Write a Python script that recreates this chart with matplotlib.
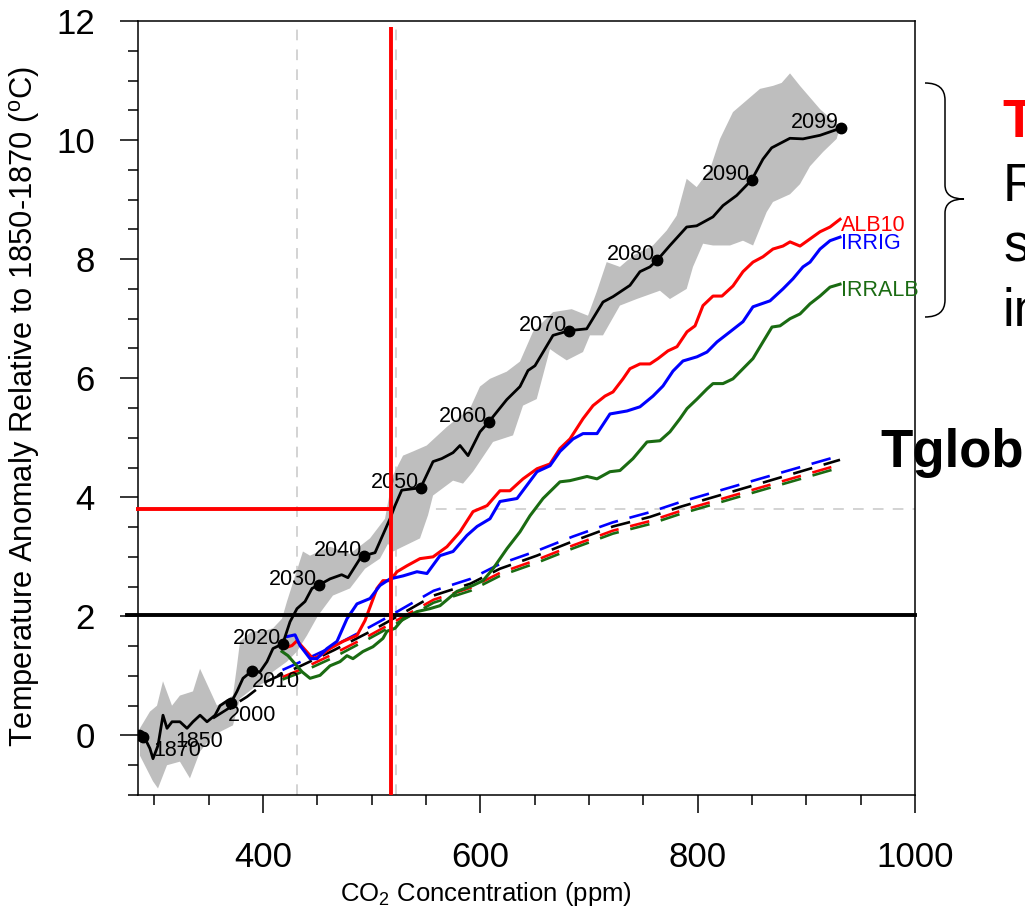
import numpy as np
import matplotlib.pyplot as plt
from matplotlib.path import Path
from matplotlib.patches import PathPatch

plt.rcParams['font.family'] = ['Liberation Sans', 'DejaVu Sans']
plt.rcParams['mathtext.fontset'] = 'custom'
plt.rcParams['mathtext.rm'] = 'Liberation Sans'
plt.rcParams['mathtext.it'] = 'Liberation Sans'

# --- black line: regional temperature vs CO2 (ensemble mean) ---
ctl_co2 = [286.8, 291.4, 296.0, 298.8, 303.4, 308.0, 311.7, 316.3, 323.6, 330.1, 335.6,
           342.1, 348.5, 355.9, 360.5, 367.8, 370.3, 376.1, 381.6, 389.6, 397.3, 403.7,
           409.2, 418.2, 424.9, 431.3, 438.7, 445.1, 451.8, 461.7, 472.4, 478.2, 489.3,
           493.0, 503.1, 516.9, 521.5, 527.7, 545.1, 556.5, 564.5, 574.9, 581.3, 588.7,
           599.7, 608.0, 624.3, 636.5, 643.9, 650.3, 666.9, 681.9, 697.9, 712.9, 722.1,
           737.7, 746.9, 756.1, 762.6, 774.5, 789.9, 799.1, 814.1, 823.3, 835.9, 849.7,
           860.1, 868.1, 884.9, 896.9, 912.6, 931.6]
ctl_temp = [0.00, -0.05, -0.22, -0.39, -0.17, 0.34, 0.12, 0.23, 0.23, 0.12, 0.23,
            0.34, 0.23, 0.34, 0.50, 0.59, 0.54, 0.74, 0.96, 1.08, 1.07, 1.24,
            1.46, 1.54, 1.91, 2.13, 2.25, 2.47, 2.53, 2.63, 2.70, 2.65, 2.97,
            3.02, 3.07, 3.64, 3.86, 4.12, 4.16, 4.60, 4.65, 4.75, 4.87, 4.70,
            5.10, 5.27, 5.64, 5.86, 6.13, 6.21, 6.72, 6.80, 6.83, 7.28, 7.37,
            7.56, 7.79, 7.87, 7.98, 8.23, 8.54, 8.56, 8.71, 8.90, 9.07, 9.33,
            9.68, 9.87, 10.03, 10.02, 10.08, 10.20]

# spread (grey band)
band_up_co2 = [286.8, 296.0, 302.5, 308.0, 316.3, 323.6, 335.6, 342.1, 357.7, 372.4, 376.1,
               378.9, 389.9, 400.0, 409.2, 417.5, 422.1, 436.8, 443.3, 461.7, 480.1, 498.5,
               512.3, 519.7, 528.9, 538.1, 550.7, 569.1, 590.5, 599.7, 608.9, 624.3, 636.5,
               648.5, 666.9, 684.1, 699.1, 707.1, 716.3, 728.5, 740.5, 758.9, 771.5, 780.7,
               789.9, 799.1, 811.4, 820.6, 832.5, 857.4, 869.3, 877.3, 885.0, 894.2, 912.6,
               924.6, 931.0]
band_up_temp = [0.12, 0.40, 0.50, 0.91, 0.50, 0.67, 0.74, 1.12, 0.50, 0.67, 1.17,
                1.58, 1.75, 1.75, 1.80, 1.96, 2.25, 3.09, 3.02, 3.17, 3.05, 3.31,
                3.64, 4.37, 4.70, 4.77, 4.87, 5.18, 5.49, 5.86, 5.99, 6.11, 6.28,
                6.78, 7.11, 7.16, 7.05, 7.45, 7.95, 7.87, 8.06, 8.23, 8.48, 8.73,
                9.35, 9.21, 9.51, 10.02, 10.47, 10.86, 10.91, 10.96, 11.12, 10.91, 10.52,
                10.32, 10.22]
band_lo_co2 = [286.8, 298.8, 303.4, 311.7, 323.6, 332.8, 342.1, 354.0, 372.4, 378.9, 390.8,
               403.7, 409.2, 422.1, 431.3, 440.5, 450.6, 464.4, 480.1, 493.9, 507.7, 515.1,
               519.7, 544.5, 551.9, 556.5, 574.9, 584.1, 593.3, 611.7, 630.1, 639.3, 651.9,
               661.1, 664.1, 670.3, 679.5, 694.5, 700.9, 712.9, 728.5, 743.9, 765.3, 774.5,
               789.9, 795.7, 805.0, 814.1, 829.8, 841.7, 851.0, 863.5, 869.3, 885.0, 894.2,
               903.4, 915.4, 927.9]
band_lo_temp = [-0.34, -0.77, -0.89, -0.50, -0.44, -0.72, -0.27, 0.00, 0.17, 0.62, 0.79,
                0.91, 1.07, 1.24, 1.41, 1.68, 2.01, 2.35, 2.47, 2.80, 2.97, 3.22,
                3.09, 3.31, 3.70, 4.03, 4.28, 4.23, 4.43, 4.93, 5.04, 5.54, 5.65,
                6.28, 6.49, 6.41, 6.30, 6.44, 6.72, 6.72, 7.22, 7.33, 7.47, 7.33,
                7.50, 7.87, 8.26, 8.23, 8.23, 8.31, 8.23, 8.79, 8.96, 9.09, 9.26,
                9.56, 9.80, 10.02]

# decade markers
year_labels = ['1850', '1870', '2000', '2010', '2020', '2030', '2040', '2050',
               '2060', '2070', '2080', '2090', '2099']
year_co2 = [286.0, 290.0, 370.3, 389.6, 418.2, 451.8, 493.0, 545.1,
            608.0, 681.9, 762.6, 849.7, 931.6]
year_temp = [0.00, -0.03, 0.54, 1.08, 1.54, 2.53, 3.02, 4.16,
             5.27, 6.80, 7.98, 9.33, 10.20]

# --- sensitivity experiments, regional temperature ---
alb_co2 = [418.4, 426.7, 431.3, 446.0, 452.5, 461.7, 473.6, 486.5, 493.9, 504.9, 510.4,
           516.9, 523.3, 532.5, 544.5, 556.5, 569.3, 581.3, 593.3, 606.2, 618.1, 627.3,
           639.3, 652.2, 664.1, 673.3, 682.5, 694.5, 703.7, 714.7, 722.1, 731.3, 737.7,
           746.9, 756.1, 763.5, 772.7, 781.0, 790.2, 797.6, 804.9, 814.1, 822.4, 832.5,
           841.7, 850.9, 860.1, 869.3, 878.5, 885.0, 894.2, 903.4, 912.6, 921.8, 931.0]
alb_temp = [1.46, 1.51, 1.59, 1.29, 1.34, 1.46, 1.58, 1.68, 1.93, 2.47, 2.60,
            2.60, 2.75, 2.85, 2.97, 3.00, 3.17, 3.42, 3.76, 3.86, 4.11, 4.11,
            4.31, 4.48, 4.56, 4.82, 4.98, 5.32, 5.54, 5.70, 5.77, 5.99, 6.16,
            6.24, 6.24, 6.33, 6.46, 6.53, 6.78, 6.88, 7.22, 7.38, 7.38, 7.55,
            7.79, 7.95, 8.04, 8.17, 8.22, 8.29, 8.22, 8.34, 8.46, 8.54, 8.67]

irr_co2 = [422.1, 429.5, 434.1, 443.3, 449.7, 458.9, 468.1, 477.3, 486.5, 498.5, 507.7,
           516.9, 528.9, 541.7, 550.9, 562.9, 574.9, 587.7, 597.0, 608.9, 618.1, 633.8,
           652.2, 664.1, 673.3, 685.3, 694.5, 707.4, 719.3, 735.0, 746.9, 758.9, 768.1,
           777.3, 786.5, 799.4, 808.6, 817.8, 829.8, 841.7, 850.9, 866.6, 878.5, 887.7,
           896.9, 903.4, 912.6, 921.8, 931.0]
irr_temp = [1.66, 1.69, 1.51, 1.29, 1.29, 1.46, 1.58, 1.96, 2.21, 2.30, 2.52,
            2.63, 2.68, 2.75, 2.72, 3.02, 3.09, 3.36, 3.51, 3.64, 3.93, 3.98,
            4.43, 4.53, 4.77, 4.98, 5.07, 5.07, 5.40, 5.45, 5.52, 5.70, 5.87,
            6.12, 6.29, 6.36, 6.44, 6.61, 6.78, 6.95, 7.20, 7.30, 7.50, 7.67,
            7.87, 7.95, 8.17, 8.31, 8.37]

irralb_co2 = [417.5, 423.0, 435.9, 443.3, 452.5, 461.7, 470.9, 477.3, 482.8, 492.0, 501.2,
              510.4, 514.1, 521.5, 528.9, 541.7, 553.7, 562.9, 578.5, 593.3, 602.5, 611.7,
              624.6, 636.5, 645.7, 657.7, 673.3, 682.5, 698.2, 707.4, 719.3, 728.5, 740.5,
              753.4, 765.3, 774.5, 783.7, 790.2, 799.4, 808.6, 814.1, 823.3, 832.5, 841.7,
              850.9, 860.1, 868.4, 875.8, 885.0, 894.2, 903.4, 912.6, 921.8, 931.0]
irralb_temp = [1.41, 1.34, 1.07, 0.96, 1.01, 1.17, 1.24, 1.34, 1.29, 1.41, 1.49,
               1.63, 1.75, 1.80, 1.96, 2.08, 2.13, 2.18, 2.42, 2.52, 2.60, 2.80,
               3.14, 3.42, 3.69, 3.98, 4.26, 4.28, 4.35, 4.31, 4.43, 4.45, 4.65,
               4.93, 4.95, 5.10, 5.32, 5.49, 5.65, 5.82, 5.91, 5.91, 5.99, 6.16,
               6.33, 6.61, 6.86, 6.88, 7.00, 7.08, 7.25, 7.38, 7.53, 7.58]

# --- global mean temperature (dashed) ---
glob_ctl_co2 = [354.0, 385.3, 403.7, 418.0, 435.0, 465.0, 496.0, 514.0, 557.0, 591.0,
                618.0, 652.0, 685.0, 722.0, 756.0, 784.0, 857.0, 931.0]
glob_ctl_temp = [0.29, 0.65, 0.91, 1.03, 1.17, 1.43, 1.72, 1.90, 2.35, 2.55,
                 2.80, 3.02, 3.26, 3.51, 3.67, 3.84, 4.23, 4.63]
glob_co2 = [418.0, 435.0, 465.0, 496.0, 514.0, 557.0, 591.0, 618.0, 652.0, 685.0,
            722.0, 756.0, 784.0, 857.0, 931.0]
glob_alb = [0.98, 1.11, 1.37, 1.66, 1.84, 2.28, 2.48, 2.73, 2.95, 3.19,
            3.44, 3.60, 3.77, 4.16, 4.55]
glob_irr = [1.10, 1.24, 1.50, 1.80, 1.98, 2.43, 2.63, 2.88, 3.10, 3.34,
            3.58, 3.75, 3.92, 4.31, 4.70]
glob_irralb = [0.94, 1.06, 1.31, 1.61, 1.79, 2.23, 2.43, 2.68, 2.90, 3.14,
               3.39, 3.55, 3.72, 4.11, 4.50]

# reference values
thresh_glob = 2.03      # black horizontal
thresh_reg = 3.81       # red horizontal
co2_at_thresh = 517.8   # red vertical
co2_grey1 = 431.3
co2_grey2 = 522.4

fig = plt.figure(figsize=(10.25, 9.15), dpi=100)

# overlay for the text/brace outside the plot
ov = fig.add_axes([0, 0, 1, 1], zorder=0)
ov.set_xlim(0, 1025)
ov.set_ylim(915, 0)
ov.axis('off')

ax = fig.add_axes([138 / 1025, 1 - 795 / 915, 777 / 1025, 774 / 915], zorder=1)
ax.patch.set_alpha(0)

grey = '#c8c8c8'
ax.axvline(co2_grey1, color=grey, lw=1.1, dashes=(7, 6), zorder=1)
ax.axvline(co2_grey2, color=grey, lw=1.1, dashes=(7, 6), zorder=1)
ax.axhline(thresh_reg, color=grey, lw=1.1, dashes=(7, 6), zorder=1)

band_x = band_up_co2 + band_lo_co2[::-1]
band_y = band_up_temp + band_lo_temp[::-1]
ax.fill(band_x, band_y, color='#bebebe', lw=0, zorder=2)

dash = (7.5, 4.5)
ax.plot(glob_co2, glob_irr, color='blue', lw=1.9, dashes=dash, zorder=3)
ax.plot(glob_co2, glob_alb, color='red', lw=1.9, dashes=dash, zorder=3)
ax.plot(glob_co2, glob_irralb, color='#1a6b12', lw=1.9, dashes=dash, zorder=3)
ax.plot(glob_ctl_co2, glob_ctl_temp, color='black', lw=1.9, dashes=dash, zorder=3)

ax.plot(alb_co2, alb_temp, color='red', lw=2.2, zorder=4)
ax.plot(irr_co2, irr_temp, color='blue', lw=2.2, zorder=4)
ax.plot(irralb_co2, irralb_temp, color='#1a6b12', lw=2.2, zorder=4)

for name, xs, ys, c in [('ALB10', alb_co2, alb_temp, 'red'),
                        ('IRRIG', irr_co2, irr_temp, 'blue'),
                        ('IRRALB', irralb_co2, irralb_temp, '#1a6b12')]:
    ax.annotate(name, (xs[-1], ys[-1]), xytext=(0.5, -4.5), textcoords='offset points',
                ha='left', va='center', color=c, fontsize=15.5, zorder=6,
                annotation_clip=False)

ax.plot(ctl_co2, ctl_temp, color='black', lw=2.0, zorder=5)
ax.plot(year_co2, year_temp, 'o', color='black', ms=7.5, zorder=5)

# label placement: offset (points), ha, va
label_style = {'1850': ((26, 3), 'left', 'top'),
               '1870': ((7, -2), 'left', 'top'),
               '2000': ((-2, -1), 'left', 'top'),
               '2010': ((0, 0), 'left', 'top')}
for lab, x, y in zip(year_labels, year_co2, year_temp):
    off, ha, va = label_style.get(lab, ((-1.5, 0), 'right', 'baseline'))
    ax.annotate(lab, (x, y), xytext=off, textcoords='offset points',
                ha=ha, va=va, fontsize=15.5, zorder=6)

ax.axhline(thresh_glob, xmin=-0.014, xmax=1, color='black', lw=2.8, zorder=6, clip_on=False)
ax.plot([283, co2_at_thresh], [thresh_reg, thresh_reg], color='red', lw=2.8,
        zorder=7, clip_on=False, solid_capstyle='butt')
ax.plot([co2_at_thresh, co2_at_thresh], [-1, 11.9], color='red', lw=2.8,
        zorder=7, solid_capstyle='butt')

ax.set_xlim(285, 1000)
ax.set_ylim(-1, 12)
ax.set_xticks([400, 600, 800, 1000])
ax.set_xticks(np.arange(300, 1001, 50), minor=True)
ax.set_yticks(np.arange(0, 13, 2))
ax.set_yticks(np.arange(-1, 12.01, 0.5), minor=True)
ax.tick_params(which='major', direction='out', length=13, width=1.1, labelsize=25)
ax.tick_params(axis='y', which='major', pad=18)
ax.tick_params(axis='x', which='major', pad=20)
ax.tick_params(which='minor', direction='out', length=7, width=1.1)
for s in ax.spines.values():
    s.set_linewidth(1.1)

ax.set_xlabel('CO$_2$ Concentration (ppm)', fontsize=18.5, va='top')
ax.xaxis.set_label_coords(0.448, -0.110)
ax.set_ylabel('Temperature Anomaly Relative to 1850-1870 ($^{\\rm o}$C)', fontsize=22.2)
ax.yaxis.set_label_coords(-0.124, 0.502)

# right-hand annotations
brace = Path([(925, 83), (945, 83), (945, 100), (945, 185), (945, 199), (964, 199),
              (945, 199), (945, 213), (945, 300), (945, 317), (925, 317)],
             [Path.MOVETO, Path.CURVE3, Path.CURVE3, Path.LINETO, Path.CURVE3, Path.CURVE3,
              Path.CURVE3, Path.CURVE3, Path.LINETO, Path.CURVE3, Path.CURVE3])
ov.add_patch(PathPatch(brace, fc='none', ec='black', lw=1.1))
ov.text(1002, 137, 'T', color='red', fontsize=38, fontweight='bold', va='baseline')
ov.text(1003, 201, 'R', fontsize=38, va='baseline')
ov.text(1003, 261, 's', fontsize=38, va='baseline')
ov.text(1003, 326, 'in', fontsize=38, va='baseline')
ov.text(880, 467, 'Tglob', fontsize=38, fontweight='bold', va='baseline')

fig.savefig('out.png', dpi=100)
